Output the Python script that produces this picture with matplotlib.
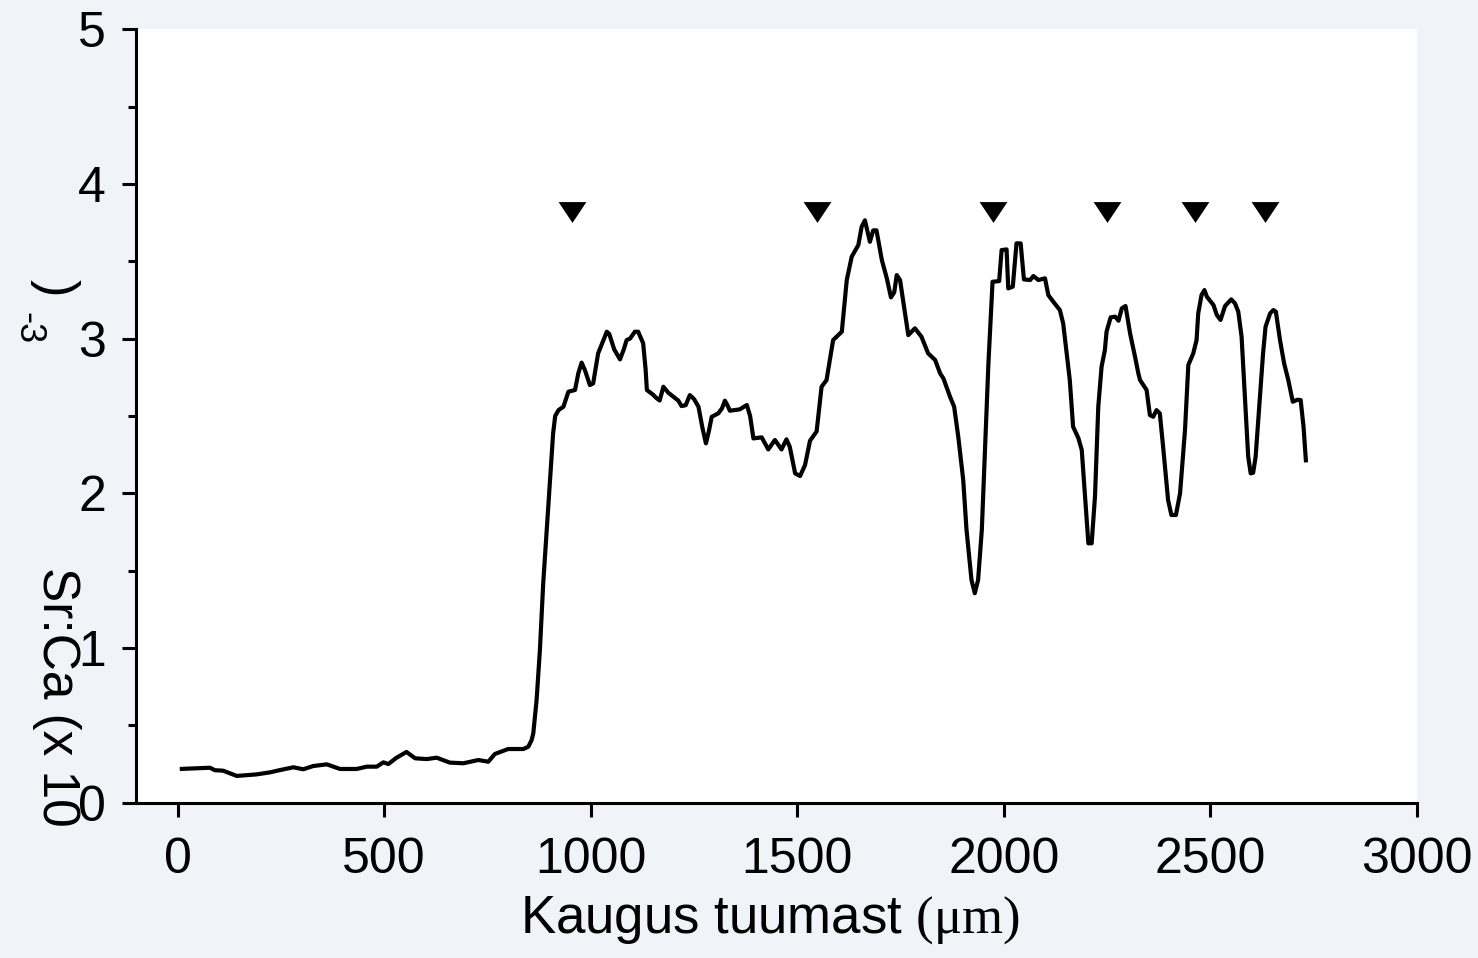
import numpy as np
import matplotlib
matplotlib.use("Agg")
import matplotlib.pyplot as plt

plt.rcParams["font.family"] = ["Liberation Sans", "DejaVu Sans"]
plt.rcParams["mathtext.fontset"] = "custom"
plt.rcParams["mathtext.rm"] = "Liberation Serif"

# distance from core (um) and Sr:Ca (x 10^-3)
distance = [
    5, 78, 90, 110, 143, 191, 223, 248, 280, 304, 328, 361, 393, 433, 458, 482,
    498, 510, 530, 554, 575, 603, 627, 659, 692, 728, 752, 768, 800, 837, 849, 857,
    861, 869, 877, 885, 893, 901, 909, 914, 922, 934, 946, 962, 970, 978, 986, 998,
    1006, 1018, 1039, 1045, 1057, 1071, 1080, 1087, 1095, 1107, 1115, 1127, 1133, 1136,
    1150, 1160, 1167, 1176, 1188, 1200, 1212, 1220, 1230, 1240, 1250, 1261, 1270, 1279,
    1286, 1293, 1309, 1318, 1325, 1331, 1337, 1361, 1378, 1386, 1394, 1414, 1430, 1446,
    1462, 1474, 1482, 1495, 1507, 1519, 1531, 1547, 1559, 1571, 1587, 1608, 1620, 1632,
    1648, 1656, 1664, 1676, 1684, 1692, 1705, 1717, 1727, 1735, 1741, 1749, 1769, 1785,
    1801, 1817, 1834, 1846, 1854, 1870, 1880, 1890, 1902, 1910, 1922, 1930, 1938, 1947,
    1955, 1963, 1973, 1989, 1995, 2007, 2011, 2022, 2031, 2041, 2049, 2064, 2072, 2084,
    2100, 2108, 2120, 2136, 2144, 2160, 2168, 2181, 2189, 2197, 2205, 2213, 2221, 2229,
    2237, 2245, 2249, 2259, 2270, 2278, 2286, 2295, 2306, 2318, 2326, 2330, 2346, 2354,
    2362, 2370, 2378, 2386, 2398, 2406, 2417, 2427, 2439, 2447, 2459, 2467, 2471, 2479,
    2486, 2492, 2508, 2516, 2525, 2536, 2551, 2560, 2568, 2576, 2584, 2592, 2598, 2604,
    2610, 2620, 2628, 2634, 2645, 2653, 2659, 2669, 2679, 2689, 2700, 2711, 2719, 2726,
    2732,
]
sr_ca = [
    0.218, 0.226, 0.210, 0.207, 0.173, 0.183, 0.196, 0.211, 0.229, 0.216, 0.237, 0.248, 0.218, 0.218, 0.233, 0.233,
    0.261, 0.250, 0.291, 0.328, 0.287, 0.282, 0.291, 0.259, 0.255, 0.276, 0.265, 0.315, 0.347, 0.347, 0.362, 0.405,
    0.449, 0.664, 0.987, 1.418, 1.741, 2.065, 2.388, 2.500, 2.538, 2.560, 2.657, 2.668, 2.776, 2.845, 2.797, 2.700,
    2.711, 2.905, 3.045, 3.030, 2.930, 2.866, 2.930, 2.991, 3.000, 3.045, 3.045, 2.970, 2.800, 2.668,
    2.640, 2.614, 2.600, 2.689, 2.650, 2.625, 2.600, 2.564, 2.570, 2.635, 2.610, 2.560, 2.430, 2.323,
    2.400, 2.495, 2.517, 2.550, 2.599, 2.570, 2.534, 2.543, 2.571, 2.500, 2.355, 2.362, 2.284, 2.345,
    2.284, 2.349, 2.301, 2.129, 2.112, 2.183, 2.340, 2.400, 2.689, 2.732, 2.991, 3.045, 3.379, 3.530,
    3.605, 3.723, 3.765, 3.626, 3.700, 3.700, 3.508, 3.390, 3.267, 3.300, 3.411, 3.379, 3.023, 3.067,
    3.012, 2.905, 2.862, 2.776, 2.743, 2.625, 2.560, 2.366, 2.086, 1.763, 1.440, 1.354, 1.440, 1.763,
    2.301, 2.840, 3.368, 3.372, 3.573, 3.577, 3.325, 3.336, 3.616, 3.616, 3.383, 3.379, 3.405, 3.379,
    3.390, 3.282, 3.239, 3.185, 3.099, 2.733, 2.431, 2.356, 2.280, 1.978, 1.677, 1.677, 1.978, 2.560,
    2.819, 2.926, 3.045, 3.138, 3.142, 3.116, 3.196, 3.211, 3.034, 2.883, 2.776, 2.733, 2.668, 2.506,
    2.495, 2.538, 2.517, 2.301, 1.957, 1.860, 1.860, 2.000, 2.409, 2.829, 2.905, 2.991, 3.163, 3.282,
    3.314, 3.271, 3.217, 3.153, 3.121, 3.211, 3.254, 3.228, 3.174, 3.012, 2.625, 2.237, 2.129, 2.133,
    2.237, 2.603, 2.905, 3.077, 3.163, 3.185, 3.174, 2.991, 2.840, 2.733, 2.592, 2.605, 2.603, 2.430,
    2.200,
]

# annual mark positions (triangles)
mark_x = [954, 1549, 1975, 2249, 2463, 2633]
mark_y = [3.82] * len(mark_x)

x_ticks = [0, 500, 1000, 1500, 2000, 2500, 3000]
y_ticks = [0, 1, 2, 3, 4, 5]

W, H = 1478, 958
fig = plt.figure(figsize=(W / 100, H / 100), dpi=100, facecolor="#f0f3f7")
ax = fig.add_axes([136.4 / W, 1 - 802.7 / H, (1416.7 - 136.4) / W, (802.7 - 29.3) / H])
ax.set_facecolor("white")

ax.plot(distance, sr_ca, color="black", linewidth=3.0,
        solid_joinstyle="round", solid_capstyle="butt")

tri = [(-1.0, 0.75), (1.0, 0.75), (0.0, -0.75)]
ax.plot(mark_x, mark_y, linestyle="none", marker=tri, markersize=20,
        color="black", markeredgewidth=0)

ax.set_xlim(-100, 3000)
ax.set_ylim(0, 5)
ax.set_xticks(x_ticks)
ax.set_yticks(y_ticks)
ax.set_yticks(np.arange(0.5, 5, 1.0), minor=True)

for side in ("top", "right"):
    ax.spines[side].set_visible(False)
for side in ("left", "bottom"):
    ax.spines[side].set_linewidth(2.2)

ax.tick_params(axis="both", which="major", direction="out", length=10, width=2.2,
               labelsize=36, color="black")
ax.tick_params(axis="y", which="major", pad=12)
ax.tick_params(axis="x", which="major", pad=15)
ax.tick_params(axis="y", which="minor", direction="out", length=6, width=2.2)


def px(x, y):
    return x / W, 1 - y / H


fig.text(*px(770, 933), r"Kaugus tuumast $\mathrm{(\mu m)}$", fontsize=38,
         ha="center", va="baseline")

# y label as it appears in the source: pieces scattered along the left edge
fig.text(*px(56, 697), "Sr:Ca (x 10", fontsize=37, rotation=-90,
         ha="center", va="center")
fig.text(*px(55, 288), ")", fontsize=38, rotation=-90, ha="center", va="center")
fig.text(*px(28, 328), "-3", fontsize=26, rotation=-90, ha="center", va="center")

fig.savefig("out.png", dpi=100, facecolor=fig.get_facecolor())
